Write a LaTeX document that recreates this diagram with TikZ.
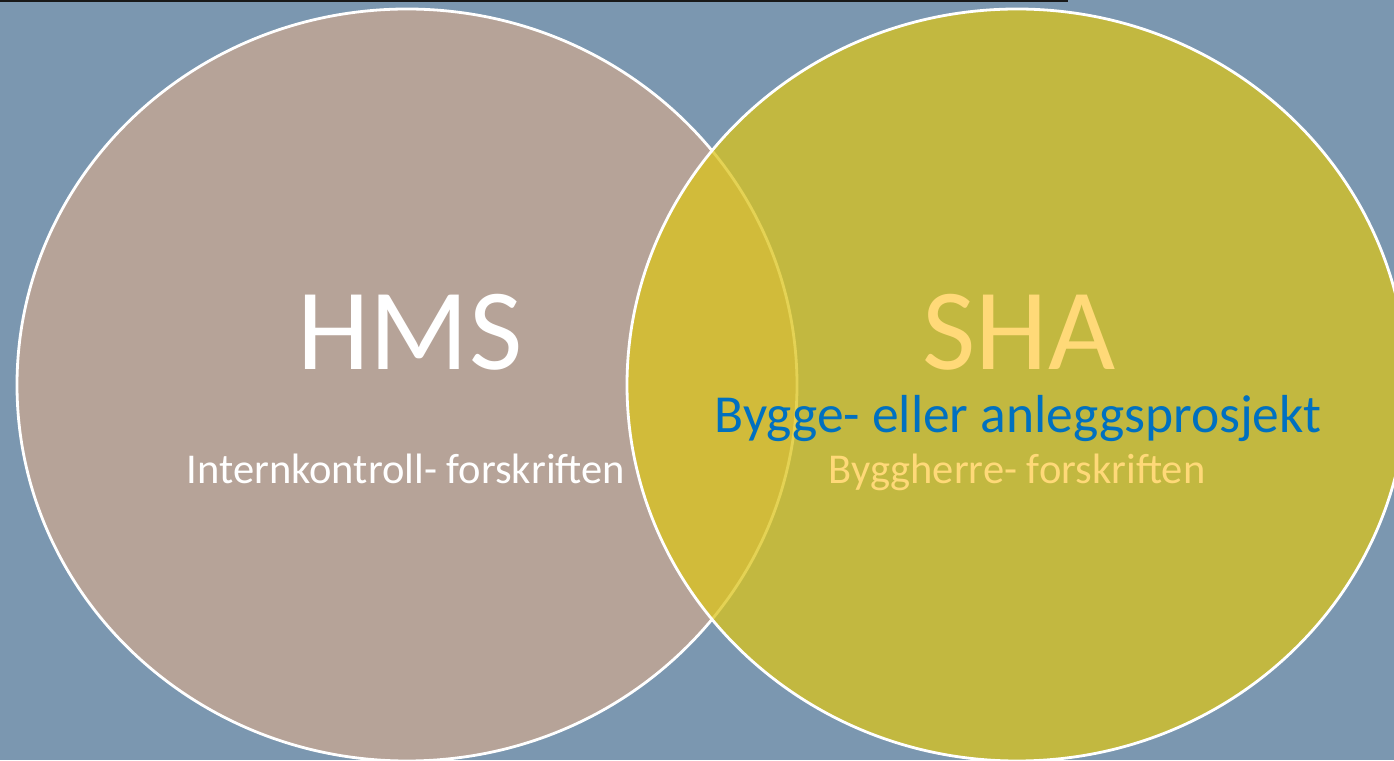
\documentclass[tikz,border=0pt]{standalone}
\usepackage{fontspec}
\setmainfont{Carlito}
\definecolor{bgblue}{RGB}{123,151,176}
\definecolor{hmsfill}{RGB}{182,163,152}
\definecolor{shafill}{RGB}{219,196,27}
\definecolor{shatext}{RGB}{255,217,120}
\definecolor{projblue}{RGB}{0,112,192}
\definecolor{topline}{RGB}{25,25,25}
\tikzset{
  setcircle/.style={draw=white, line width=2.8pt},
  bigtext/.style={font=\fontsize{116}{120}\selectfont, anchor=base, inner sep=0pt},
  midtext/.style={font=\fontsize{53.5}{58}\selectfont, anchor=base, inner sep=0pt},
  smalltext/.style={font=\fontsize{42.5}{46}\selectfont, anchor=base, inner sep=0pt}
}
\begin{document}
\begin{tikzpicture}[x=1pt,y=1pt]
\useasboundingbox (0,0) rectangle (1394,760);
\clip (0,0) rectangle (1394,760);
\fill[bgblue] (0,0) rectangle (1394,760);
\fill[topline] (0,757.5) rectangle (1068,760);
% left set
\path[setcircle, fill=hmsfill] (407,375) ellipse [x radius=390, y radius=376];
% right set, translucent
\path[setcircle, fill=shafill, fill opacity=0.75] (1017,375) ellipse [x radius=390, y radius=376];
% labels
\node[bigtext, text=white] (hms) at (410,390) {HMS};
\node[bigtext, text=shatext] (sha) at (1019,390) {SHA};
\node[midtext, text=projblue] (proj) at (1018,327) {Bygge- eller anleggsprosjekt};
\node[smalltext, text=white] (ik) at (406,276) {Internkontroll- forskriften};
\node[smalltext, text=shatext] (bh) at (1017,276) {Byggherre- forskriften};
\end{tikzpicture}
\end{document}
